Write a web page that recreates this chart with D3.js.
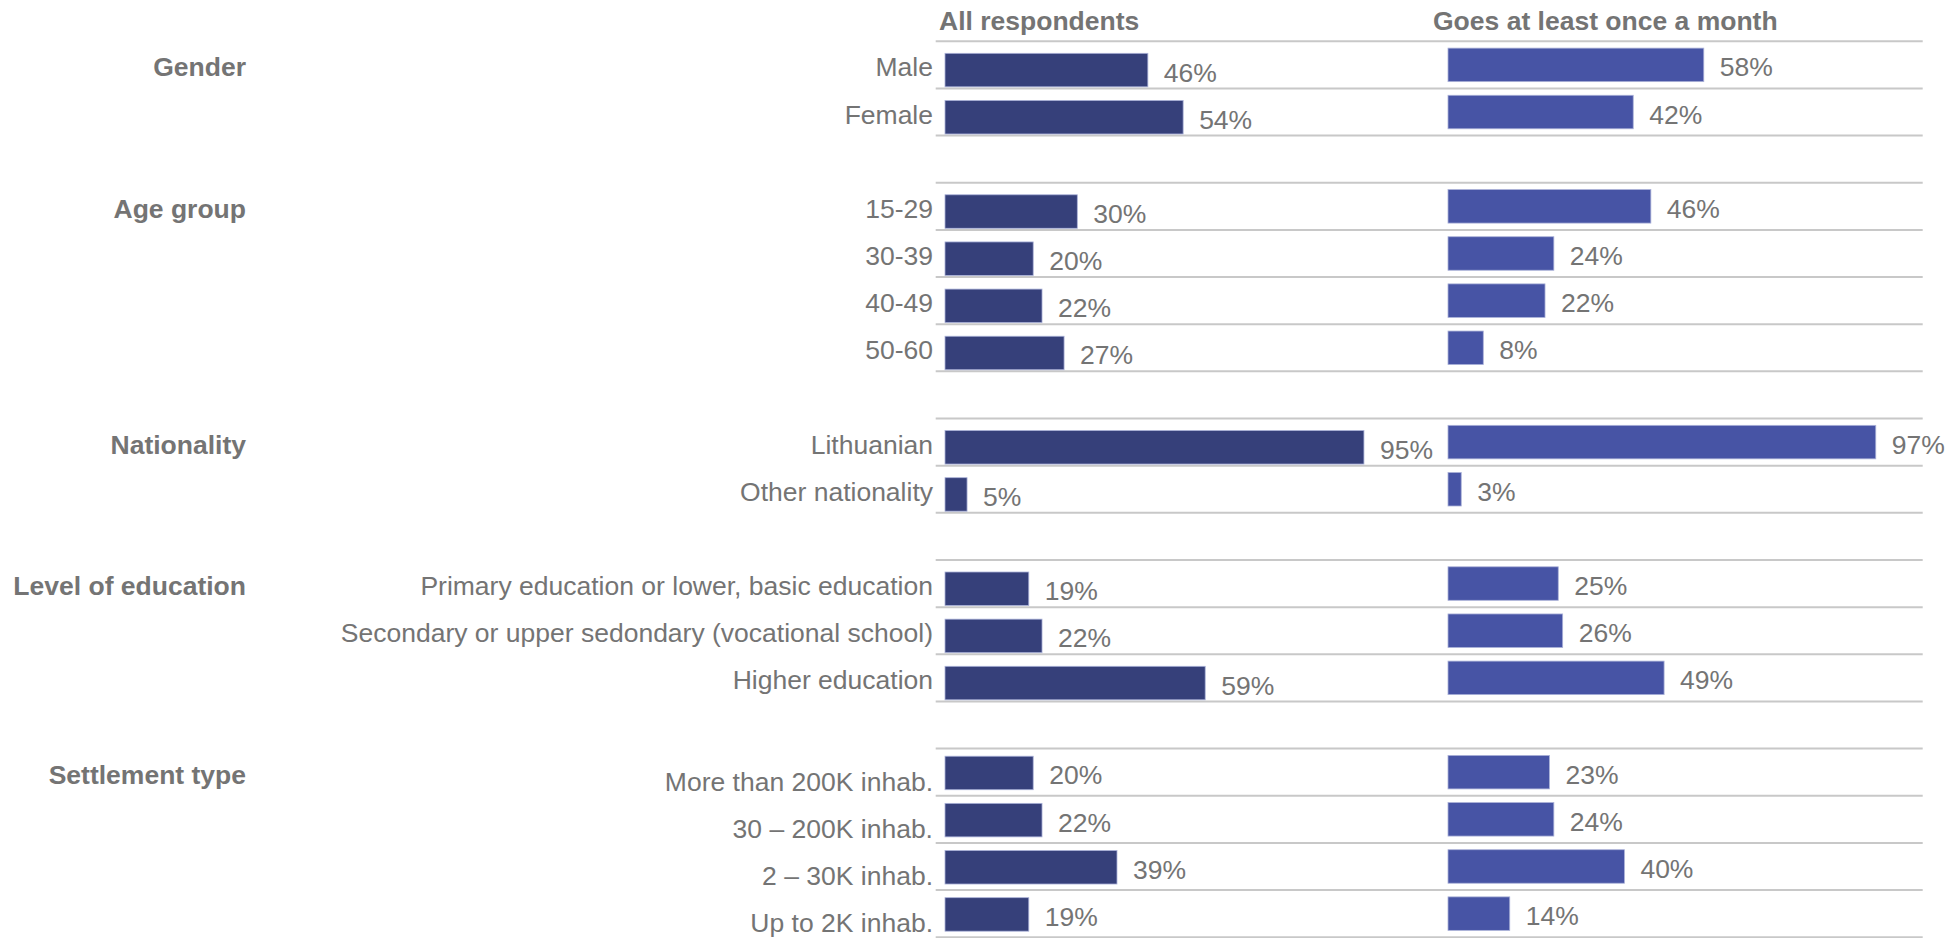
<!DOCTYPE html>
<html>
<head>
<meta charset="utf-8">
<script src="https://cdn.jsdelivr.net/npm/d3@7"></script>
<style>
  html, body { margin: 0; padding: 0; background: #ffffff; }
  svg { display: block; }
  text { font-family: "Liberation Sans", Arial, sans-serif; }
</style>
</head>
<body>
<svg id="chart" width="1949" height="938"></svg>
<script>
// ---------------- DATA ----------------
const seriesNames = ["All respondents", "Goes at least once a month"];
const groupLabels = ["Gender", "Age group", "Nationality", "Level of education", "Settlement type"];
const genderCategories = ["Male", "Female"];
const ageCategories = ["15-29", "30-39", "40-49", "50-60"];
const nationalityCategories = ["Lithuanian", "Other nationality"];
const educationCategories = ["Primary education or lower, basic education", "Secondary or upper sedondary (vocational school)", "Higher education"];
const settlementCategories = ["More than 200K inhab.", "30 \u2013 200K inhab.", "2 \u2013 30K inhab.", "Up to 2K inhab."];
const groupCategories = [genderCategories, ageCategories, nationalityCategories, educationCategories, settlementCategories];
// values in %, in category order
const allRespondents = [46, 54, 30, 20, 22, 27, 95, 5, 19, 22, 59, 20, 22, 39, 19];
const monthlyVisitors = [58, 42, 46, 24, 22, 8, 97, 3, 25, 26, 49, 23, 24, 40, 14];

// ---------------- LAYOUT / STYLE ----------------
const textColor = "#747474";
const gridColor = "#c8c8c8";
const colors = ["#36407a", "#4754a5"];
const fontSize = 26.5;
const capShift = 0.358 * fontSize; // baseline offset to center capitals
const barH = 33.5;
const leftBarOffset = [5.2, 5.2, 5.2, 5.2, 0.8];   // per group, left panel
const catLabelOffset = [2, 2, 2, 2, 9];            // per group

// Build row list (with blank rows between groups)
const rows = [];
let vi = 0;
groupCategories.forEach((cats, g) => {
  if (g > 0) rows.push({ key: "gap" + g, blank: true });
  cats.forEach((c, j) => {
    rows.push({ key: "r" + vi, blank: false, group: g, first: j === 0, last: j === cats.length - 1,
      label: c, v0: allRespondents[vi], v1: monthlyVisitors[vi] });
    vi++;
  });
});

const y = d3.scaleBand().domain(rows.map(r => r.key)).range([41.3, 937.2]).paddingInner(0).paddingOuter(0);
const xL = d3.scaleLinear().domain([0, 100]).range([945, 945 + 441]);
const xR = d3.scaleLinear().domain([0, 100]).range([1448, 1448 + 441]);
const gridX0 = 935.7, gridX1 = 1922.7;

const svg = d3.select("#chart");
const dataRows = rows.filter(r => !r.blank);

// Gridlines: top of every row in a group, and bottom of the last row
const lineYs = [];
dataRows.forEach(r => {
  lineYs.push(y(r.key));
  if (r.last) lineYs.push(y(r.key) + y.bandwidth());
});
svg.append("g").selectAll("line").data(lineYs).join("line")
  .attr("x1", gridX0).attr("x2", gridX1)
  .attr("y1", d => d).attr("y2", d => d)
  .attr("stroke", gridColor).attr("stroke-width", 2);

// Headers
svg.append("text").attr("x", 939).attr("y", 29.5)
  .attr("font-size", fontSize).attr("font-weight", "bold").attr("fill", textColor)
  .text(seriesNames[0]);
svg.append("text").attr("x", 1433).attr("y", 29.5)
  .attr("font-size", fontSize).attr("font-weight", "bold").attr("fill", textColor)
  .text(seriesNames[1]);

// Group labels
svg.append("g").selectAll("text").data(dataRows.filter(r => r.first)).join("text")
  .attr("x", 246)
  .attr("y", r => y(r.key) + y.bandwidth() / 2 + 2 + capShift)
  .attr("text-anchor", "end")
  .attr("font-size", fontSize).attr("font-weight", "bold").attr("fill", textColor)
  .text(r => groupLabels[r.group]);

// Category labels
svg.append("g").selectAll("text").data(dataRows).join("text")
  .attr("x", 933)
  .attr("y", r => y(r.key) + y.bandwidth() / 2 + catLabelOffset[r.group] + capShift)
  .attr("text-anchor", "end")
  .attr("font-size", fontSize).attr("fill", textColor)
  .text(r => r.label);

// Bars - left panel
const leftCenter = r => y(r.key) + y.bandwidth() / 2 + leftBarOffset[r.group];
const rightCenter = r => y(r.key) + y.bandwidth() / 2;

svg.append("g").selectAll("rect").data(dataRows).join("rect")
  .attr("x", xL(0))
  .attr("y", r => leftCenter(r) - barH / 2)
  .attr("width", r => xL(r.v0) - xL(0))
  .attr("height", barH)
  .attr("fill", colors[0])
  .attr("stroke", "#aab1d8").attr("stroke-width", 0.8);

svg.append("g").selectAll("text").data(dataRows).join("text")
  .attr("x", r => xL(r.v0) + 16)
  .attr("y", r => leftCenter(r) + 2 + capShift)
  .attr("font-size", fontSize).attr("fill", textColor)
  .text(r => r.v0 + "%");

// Bars - right panel
svg.append("g").selectAll("rect").data(dataRows).join("rect")
  .attr("x", xR(0))
  .attr("y", r => rightCenter(r) - barH / 2)
  .attr("width", r => xR(r.v1) - xR(0))
  .attr("height", barH)
  .attr("fill", colors[1])
  .attr("stroke", "#aab1d8").attr("stroke-width", 0.8);

svg.append("g").selectAll("text").data(dataRows).join("text")
  .attr("x", r => xR(r.v1) + 16)
  .attr("y", r => rightCenter(r) + 2 + capShift)
  .attr("font-size", fontSize).attr("fill", textColor)
  .text(r => r.v1 + "%");
</script>
</body>
</html>
